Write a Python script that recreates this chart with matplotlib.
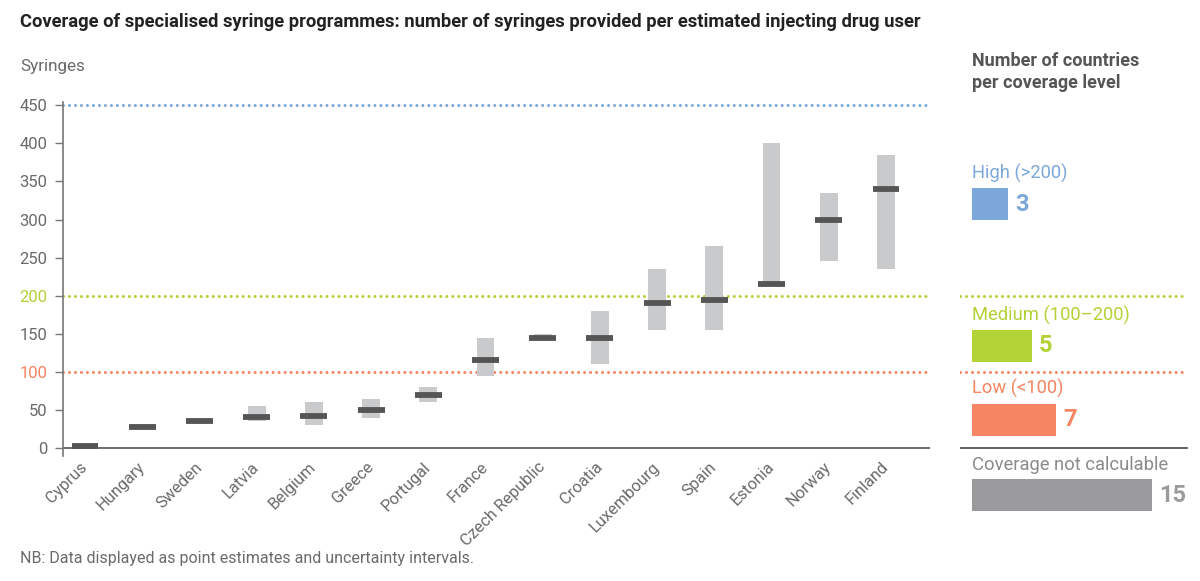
import matplotlib
matplotlib.use("Agg")
import matplotlib.pyplot as plt
import numpy as np

plt.rcParams['font.family'] = ['Roboto', 'DejaVu Sans']

countries = ["Cyprus", "Hungary", "Sweden", "Latvia", "Belgium", "Greece", "Portugal",
             "France", "Czech Republic", "Croatia", "Luxembourg", "Spain", "Estonia",
             "Norway", "Finland"]
point = [2, 28, 35, 41, 42, 50, 70, 115, 145, 145, 190, 195, 215, 300, 340]
low = [2, 28, 35, 35, 30, 39, 60, 95, 140, 110, 155, 155, 215, 245, 235]
high = [2, 28, 35, 55, 60, 65, 80, 145, 150, 180, 235, 265, 400, 335, 385]

yticks = [0, 50, 100, 150, 200, 250, 300, 350, 400, 450]
thresholds = [450, 200, 100]

levels = ["High (>200)", "Medium (100\u2013200)", "Low (<100)", "Coverage not calculable"]
counts = [3, 5, 7, 15]
level_pos = [320, 134, 37, -62]

BLUE = "#7ba7da"
GREEN = "#b2d235"
RED = "#f58563"
GREYBAR = "#9b9b9e"
RANGE = "#c9cacc"
POINT = "#555555"
TXT = "#6a6a6a"
thr_colors = [BLUE, GREEN, RED]
DOT = (0, (0.01, 1.95))

W, H = 1200, 581
fig = plt.figure(figsize=(12, 5.81), dpi=100)

ylim = (-11, 455)
ax_bottom = 1 - 456.4 / H
ax_top = 1 - 101.5 / H
ax = fig.add_axes([63 / W, ax_bottom, (930 - 63) / W, ax_top - ax_bottom])

x = np.arange(len(countries))
ax.set_xlim(-0.385, 14.77)
ax.set_ylim(*ylim)

# uncertainty intervals
ax.bar(x, np.array(high) - np.array(low), bottom=low, width=0.31, color=RANGE, zorder=2)
# point estimates
for xi, p in zip(x, point):
    ax.plot([xi - 0.235, xi + 0.235], [p, p], color=POINT, lw=4.2, solid_capstyle='butt', zorder=3)

for t, c in zip(thresholds, thr_colors):
    ax.axhline(t, color=c, lw=2.2, linestyle=DOT, zorder=1, dash_capstyle='round')

ax.axhline(0, color="#555555", lw=1.2, zorder=1)

for s in ["top", "right", "bottom"]:
    ax.spines[s].set_visible(False)
ax.spines["left"].set_color("#777777")
ax.spines["left"].set_linewidth(1.2)

ax.set_yticks(yticks)
ax.set_yticklabels([str(v) for v in yticks])
ax.tick_params(axis='y', length=6, width=1, color="#777777", labelsize=12, labelcolor=TXT, pad=5)
for lbl in ax.get_yticklabels():
    if lbl.get_text() == "200":
        lbl.set_color(GREEN)
    elif lbl.get_text() == "100":
        lbl.set_color(RED)

ax.set_xticks(x)
ax.set_xticklabels(countries, rotation=45, ha='right', va='center', rotation_mode='anchor')
ax.tick_params(axis='x', length=0, labelsize=11.8, labelcolor=TXT, pad=6)

# titles
fig.text(20 / W, 1 - 22 / H, "Coverage of specialised syringe programmes: number of syringes provided per estimated injecting drug user",
         fontsize=13.2, fontweight='bold', color="#222222", va='center', ha='left')
fig.text(20 / W, 1 - 67 / H, "Syringes", fontsize=12.3, color=TXT, va='center', ha='left')
fig.text(20 / W, 1 - 558 / H, "NB: Data displayed as point estimates and uncertainty intervals.",
         fontsize=11.5, color=TXT, va='center', ha='left')

# right panel
rax = fig.add_axes([960 / W, ax_bottom, (1200 - 960) / W, ax_top - ax_bottom])
rax.set_xlim(-1, 19)
rax.set_ylim(*ylim)
rax.axis('off')
xmax_line = (1187 - 960) / (1200 - 960)
rax.axhline(200, xmin=0, xmax=xmax_line, color=GREEN, lw=2.2, linestyle=DOT, dash_capstyle='round')
rax.axhline(100, xmin=0, xmax=xmax_line, color=RED, lw=2.2, linestyle=DOT, dash_capstyle='round')
rax.axhline(0, xmin=0, xmax=xmax_line, color="#444444", lw=1.2)

lvl_colors = [BLUE, GREEN, RED, GREYBAR]
for name, n, yp, c in zip(levels, counts, level_pos, lvl_colors):
    rax.barh(yp, n, height=42, left=0, color=c, clip_on=False)
    rax.annotate(str(n), (n, yp), xytext=(5, 0), textcoords='offset points',
                 fontsize=17, fontweight='bold', color=c, va='center', ha='left', annotation_clip=False)
    rax.annotate(name, (0, yp + 21), xytext=(0, 7), textcoords='offset points',
                 fontsize=13.2, color=c if c != GREYBAR else "#8a8a8d",
                 va='baseline', ha='left', annotation_clip=False)

fig.text(972 / W, 1 - 72 / H, "Number of countries\nper coverage level", fontsize=13,
         fontweight='bold', color="#555555", va='center', ha='left', linespacing=1.3)

fig.savefig("out.png", dpi=100)
